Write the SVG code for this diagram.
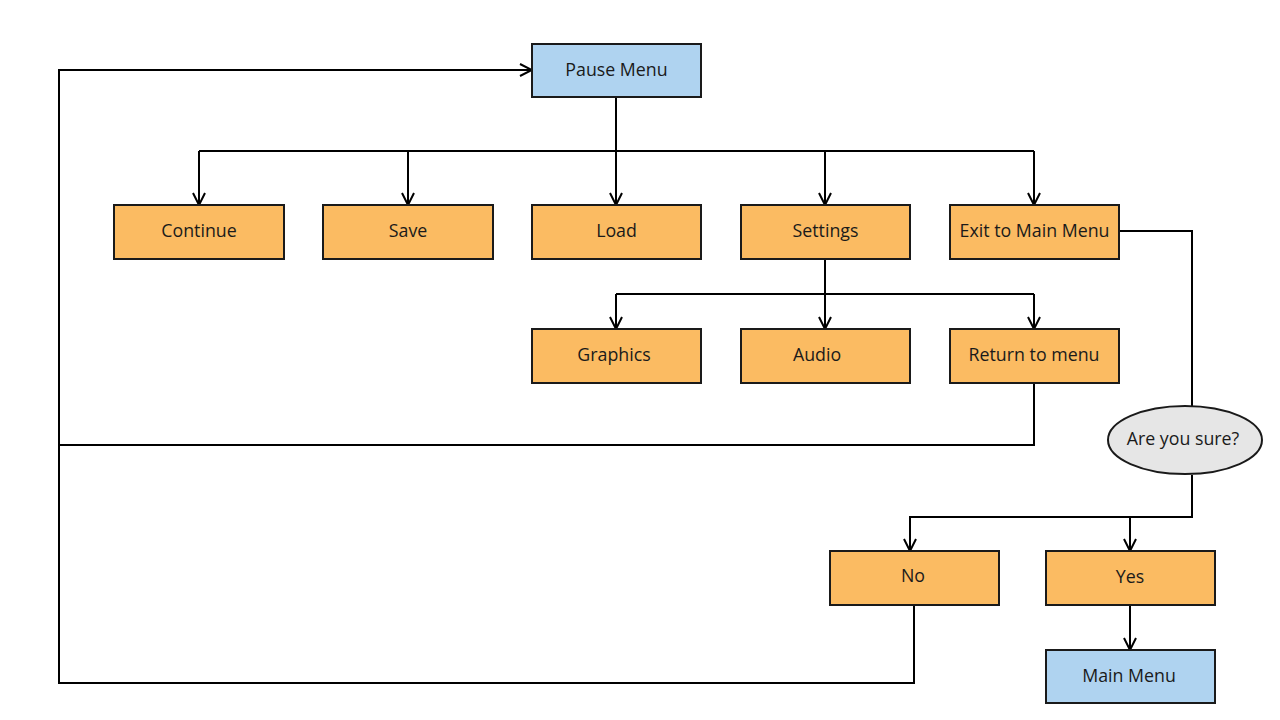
<svg xmlns="http://www.w3.org/2000/svg" width="1280" height="720" viewBox="0 0 1280 720">
  <style>
    .box { stroke: #1a1a1a; stroke-width: 2; }
    .orange { fill: #fbbb62; }
    .blue { fill: #afd3f0; }
    .grey { fill: #e6e6e6; }
    .label { font-family: "Open Sans", "Noto Sans", sans-serif; font-size: 17.8px; fill: #1a1a1a; text-anchor: middle; dominant-baseline: central; }
    .wire { fill: none; stroke: #000; stroke-width: 2; }
  </style>
  <defs>
    <marker id="arrow" viewBox="0 0 14 14" refX="13" refY="7" markerWidth="14" markerHeight="14" markerUnits="userSpaceOnUse" orient="auto">
      <polyline points="1,1 13,7 1,13" fill="none" stroke="#000" stroke-width="2"/>
    </marker>
  </defs>
  <rect width="1280" height="720" fill="#fff"/>

  <g id="connectors">
    <!-- Pause Menu fan-out -->
    <polyline class="wire" points="616,97 616,205" marker-end="url(#arrow)"/>
    <polyline class="wire" points="199,151 1034,151"/>
    <polyline class="wire" points="199,151 199,205" marker-end="url(#arrow)"/>
    <polyline class="wire" points="408,151 408,205" marker-end="url(#arrow)"/>
    <polyline class="wire" points="825,151 825,205" marker-end="url(#arrow)"/>
    <polyline class="wire" points="1034,151 1034,205" marker-end="url(#arrow)"/>
    <!-- Settings fan-out -->
    <polyline class="wire" points="825,259 825,329" marker-end="url(#arrow)"/>
    <polyline class="wire" points="616,294 1034,294"/>
    <polyline class="wire" points="616,294 616,329" marker-end="url(#arrow)"/>
    <polyline class="wire" points="1034,294 1034,329" marker-end="url(#arrow)"/>
    <!-- Return to menu loop back -->
    <polyline class="wire" points="1034,383 1034,445 59,445"/>
    <polyline class="wire" points="914,605 914,683 59,683 59,70 532,70" marker-end="url(#arrow)"/>
    <!-- Exit confirmation -->
    <polyline class="wire" points="1119,231 1192,231 1192,407"/>
    <polyline class="wire" points="1192,475 1192,517 910,517 910,551" marker-end="url(#arrow)"/>
    <polyline class="wire" points="1130,517 1130,551" marker-end="url(#arrow)"/>
    <polyline class="wire" points="1130,605 1130,650" marker-end="url(#arrow)"/>
  </g>

  <g id="pause-menu"><rect class="box blue" x="532" y="44" width="169" height="53"/><text class="label" x="616.5" y="69">Pause Menu</text></g>
  <g id="continue"><rect class="box orange" x="114" y="205" width="170" height="54"/><text class="label" x="199" y="230">Continue</text></g>
  <g id="save"><rect class="box orange" x="323" y="205" width="170" height="54"/><text class="label" x="408" y="230">Save</text></g>
  <g id="load"><rect class="box orange" x="532" y="205" width="169" height="54"/><text class="label" x="616.5" y="230">Load</text></g>
  <g id="settings"><rect class="box orange" x="741" y="205" width="169" height="54"/><text class="label" x="825.5" y="230">Settings</text></g>
  <g id="exit-to-main-menu"><rect class="box orange" x="950" y="205" width="169" height="54"/><text class="label" x="1034.5" y="230">Exit to Main Menu</text></g>
  <g id="graphics"><rect class="box orange" x="532" y="329" width="169" height="54"/><text class="label" x="614" y="354">Graphics</text></g>
  <g id="audio"><rect class="box orange" x="741" y="329" width="169" height="54"/><text class="label" x="817" y="354">Audio</text></g>
  <g id="return-to-menu"><rect class="box orange" x="950" y="329" width="169" height="54"/><text class="label" x="1034" y="354">Return to menu</text></g>
  <g id="are-you-sure"><ellipse class="box grey" cx="1185" cy="440" rx="77" ry="34"/><text class="label" x="1183" y="438">Are you sure?</text></g>
  <g id="no"><rect class="box orange" x="830" y="551" width="169" height="54"/><text class="label" x="913" y="575">No</text></g>
  <g id="yes"><rect class="box orange" x="1046" y="551" width="169" height="54"/><text class="label" x="1130" y="576">Yes</text></g>
  <g id="main-menu"><rect class="box blue" x="1046" y="650" width="169" height="53"/><text class="label" x="1129" y="675">Main Menu</text></g>
</svg>
